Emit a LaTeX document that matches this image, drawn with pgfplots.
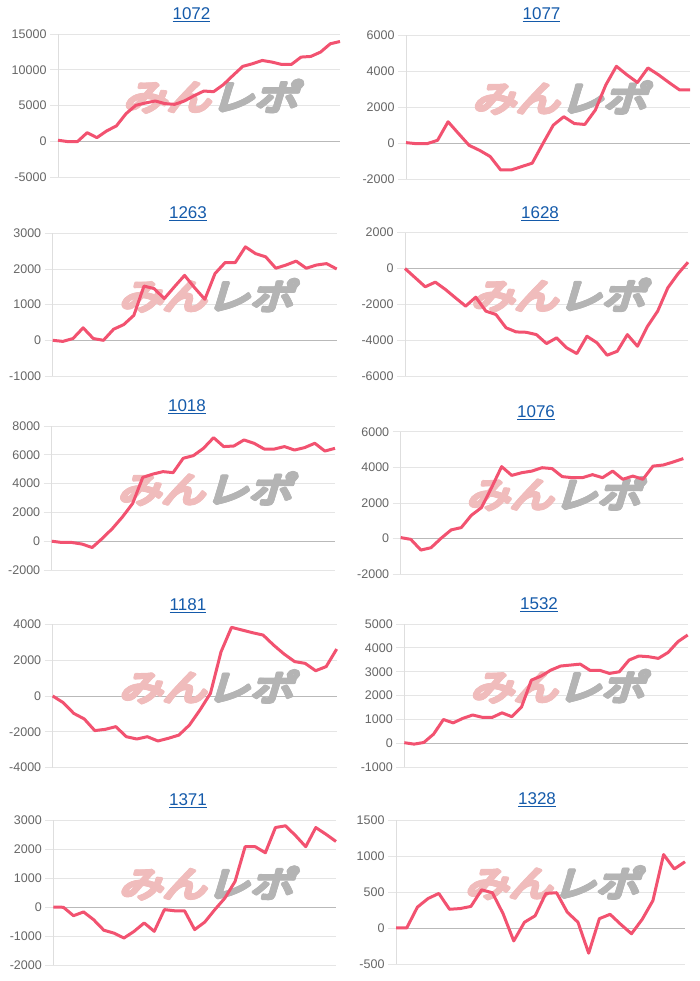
\documentclass[border=0pt]{standalone}
\usepackage{fontspec}
\setmainfont{Liberation Sans}
\newfontfamily\wmfont[FakeBold=4,FakeSlant=0.3,FakeStretch=1.25]{Noto Sans CJK JP}
\usepackage{pgfplots}
\pgfplotsset{compat=1.18}
\definecolor{linec}{RGB}{242,82,112}
\definecolor{gridc}{RGB}{229,229,229}
\definecolor{axc}{RGB}{222,222,222}
\definecolor{zeroc}{RGB}{185,185,185}
\definecolor{labc}{RGB}{102,102,102}
\definecolor{titlec}{RGB}{20,90,170}
\definecolor{wmpink}{RGB}{240,188,188}
\definecolor{wmgray}{RGB}{180,180,180}
\pgfplotsset{
  panel/.style={
    scale only axis,
    anchor=south west,
    axis x line=none,
    axis y line*=left,
    axis line style={draw=axc, line width=0.8pt},
    xtick=\empty,
    ymajorgrids,
    major grid style={draw=gridc, line width=0.8pt},
    tick align=outside,
    major tick length=8pt,
    ytick style={draw=gridc, line width=0.8pt},
    yticklabel style={font=\fontsize{12.5}{14}\selectfont, text=labc},
    yticklabel={\pgfmathprintnumber[fixed,precision=0,1000 sep={},assume math mode=true]{\tick}},
    scaled y ticks=false,
    extra y ticks={0},
    extra y tick labels={},
    extra y tick style={major grid style={draw=zeroc, line width=0.8pt}},
    clip=false,
  },
  curve/.style={draw=linec, line width=3pt, line join=round, no markers},
}
\newcommand{\wmnode}[2]{\node[anchor=center, inner sep=0pt] at ([shift={(#1pt,#2pt)}]rel axis cs:0.54,0.565) {\wmfont\fontsize{35}{35}\selectfont\textcolor{wmpink}{みん}\textcolor{wmgray}{レポ}};}
\newcommand{\wm}{\wmnode{0}{0}\wmnode{1.2}{0}\wmnode{-1.2}{0}\wmnode{0}{1.2}\wmnode{0}{-1.2}\wmnode{0.85}{0.85}\wmnode{-0.85}{-0.85}\wmnode{0.85}{-0.85}\wmnode{-0.85}{0.85}}
\newcommand{\ttl}[3]{\node[anchor=base, font=\fontsize{17}{20}\selectfont, text=titlec] at (#1pt,#2pt) {\underline{#3}};}
\begin{document}
\begin{tikzpicture}
\path[use as bounding box] (0pt,0pt) rectangle (700pt,981pt);
% ---- 1072
\begin{axis}[panel, at={(58pt,804pt)}, width=282pt, height=143pt,
  xmin=0, xmax=29, ymin=-5000, ymax=15000, ytick={-5000,0,5000,10000,15000}]
\wm
\addplot[curve] table[x expr=\coordindex, y index=0, header=false] {
140
-50
-50
1200
500
1440
2140
3860
5020
5350
5630
5260
5160
5630
6370
7020
6930
7910
9210
10470
10840
11300
11070
10740
10740
11770
11860
12470
13630
13950
};
\end{axis}
% ---- 1077
\begin{axis}[panel, at={(406pt,802pt)}, width=284pt, height=144pt,
  xmin=0, xmax=27, ymin=-2000, ymax=6000, ytick={-2000,0,2000,4000,6000}]
\wm
\addplot[curve] table[x expr=\coordindex, y index=0, header=false] {
20
-40
-40
150
1180
520
-130
-410
-750
-1500
-1500
-1310
-1120
-50
990
1460
1080
1030
1830
3230
4260
3790
3360
4170
3790
3360
2950
2950
};
\end{axis}
% ---- 1263
\begin{axis}[panel, at={(52.7pt,605pt)}, width=284pt, height=142.7pt,
  xmin=0, xmax=28, ymin=-1000, ymax=3000, ytick={-1000,0,1000,2000,3000}]
\wm
\addplot[curve] table[x expr=\coordindex, y index=0, header=false] {
0
-30
50
350
50
0
310
440
700
1520
1450
1170
1500
1820
1470
1150
1870
2180
2180
2620
2430
2340
2020
2110
2220
2020
2110
2150
2000
};
\end{axis}
% ---- 1628
\begin{axis}[panel, at={(405pt,605pt)}, width=283pt, height=143.3pt,
  xmin=0, xmax=28, ymin=-6000, ymax=2000, ytick={-6000,-4000,-2000,0,2000}]
\wm
\addplot[curve] table[x expr=\coordindex, y index=0, header=false] {
0
-510
-1020
-760
-1170
-1640
-2100
-1600
-2380
-2570
-3310
-3540
-3560
-3690
-4190
-3870
-4430
-4750
-3780
-4150
-4840
-4620
-3690
-4340
-3220
-2380
-1080
-300
350
};
\end{axis}
% ---- 1018
\begin{axis}[panel, at={(51.7pt,411pt)}, width=283.3pt, height=144pt,
  xmin=0, xmax=28, ymin=-2000, ymax=8000, ytick={-2000,0,2000,4000,6000,8000}]
\wm
\addplot[curve] table[x expr=\coordindex, y index=0, header=false] {
0
-90
-90
-200
-440
190
880
1690
2620
4430
4660
4830
4760
5760
5940
6450
7190
6570
6610
7030
6800
6400
6400
6570
6330
6500
6800
6260
6450
};
\end{axis}
% ---- 1076
\begin{axis}[panel, at={(400.7pt,406.7pt)}, width=282.6pt, height=142.6pt,
  xmin=0, xmax=28, ymin=-2000, ymax=6000, ytick={-2000,0,2000,4000,6000}]
\wm
\addplot[curve] table[x expr=\coordindex, y index=0, header=false] {
60
-40
-640
-510
20
490
620
1310
1740
2860
4040
3550
3700
3790
3980
3930
3480
3420
3420
3590
3420
3790
3330
3510
3330
4070
4130
4300
4490
};
\end{axis}
% ---- 1181
\begin{axis}[panel, at={(52.7pt,213.3pt)}, width=284pt, height=143.4pt,
  xmin=0, xmax=27, ymin=-4000, ymax=4000, ytick={-4000,-2000,0,2000,4000}]
\wm
\addplot[curve] table[x expr=\coordindex, y index=0, header=false] {
0
-370
-970
-1280
-1930
-1860
-1710
-2270
-2400
-2270
-2510
-2360
-2180
-1620
-780
150
2460
3830
3680
3530
3400
2840
2340
1920
1820
1410
1640
2620
};
\end{axis}
% ---- 1532
\begin{axis}[panel, at={(404.3pt,213.7pt)}, width=283.4pt, height=143.3pt,
  xmin=0, xmax=29, ymin=-1000, ymax=5000, ytick={-1000,0,1000,2000,3000,4000,5000}]
\wm
\addplot[curve] table[x expr=\coordindex, y index=0, header=false] {
30
-30
40
390
1000
860
1050
1190
1090
1090
1280
1120
1530
2650
2820
3070
3240
3280
3320
3060
3060
2930
3000
3490
3660
3630
3560
3810
4260
4540
};
\end{axis}
% ---- 1371
\begin{axis}[panel, at={(53.3pt,16pt)}, width=282.7pt, height=145pt,
  xmin=0, xmax=28, ymin=-2000, ymax=3000, ytick={-2000,-1000,0,1000,2000,3000}]
\wm
\addplot[curve] table[x expr=\coordindex, y index=0, header=false] {
0
-10
-300
-170
-440
-800
-900
-1070
-840
-550
-840
-90
-130
-130
-780
-520
-90
310
880
2080
2080
1870
2740
2800
2460
2080
2740
2510
2260
};
\end{axis}
% ---- 1328
\begin{axis}[panel, at={(396pt,17pt)}, width=289pt, height=144pt,
  xmin=0, xmax=27, ymin=-500, ymax=1500, ytick={-500,0,500,1000,1500}]
\wm
\addplot[curve] table[x expr=\coordindex, y index=0, header=false] {
0
0
290
410
480
260
270
300
530
490
200
-180
80
170
480
490
220
80
-350
130
190
50
-80
120
380
1020
820
920
};
\end{axis}
% ---- titles
\ttl{191.5}{961}{1072}
\ttl{541.5}{961}{1077}
\ttl{188}{762}{1263}
\ttl{540}{762}{1628}
\ttl{187}{569}{1018}
\ttl{536}{563}{1076}
\ttl{188}{370}{1181}
\ttl{539}{371}{1532}
\ttl{188}{175}{1371}
\ttl{537}{176}{1328}
\end{tikzpicture}
\end{document}
